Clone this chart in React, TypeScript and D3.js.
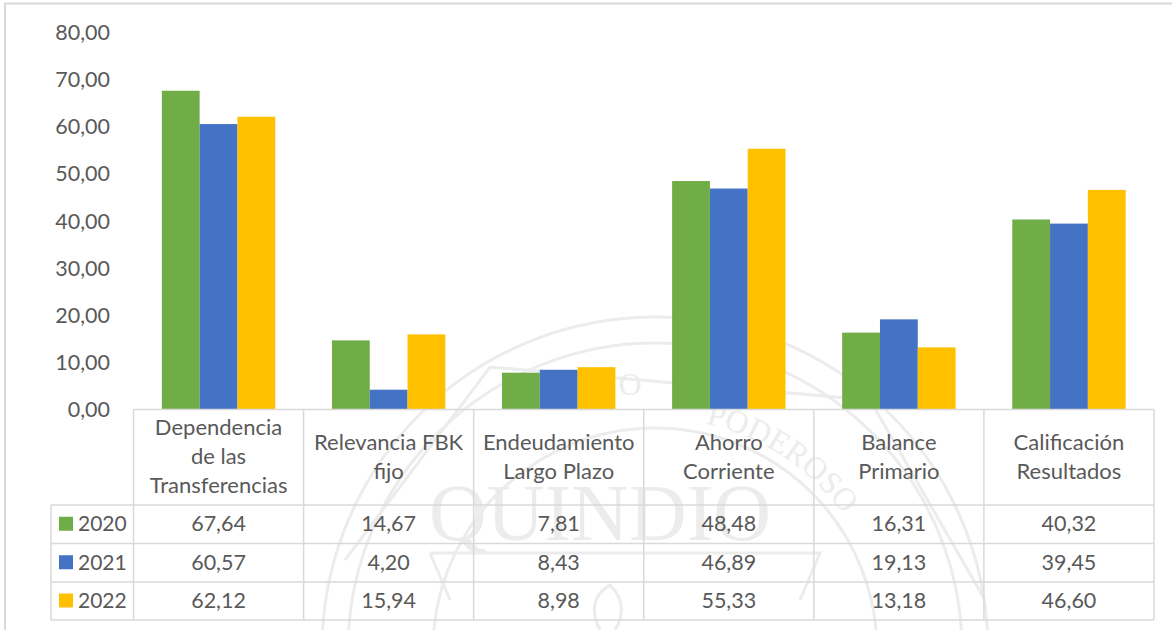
import React from "react";
import * as d3 from "d3";

const categories = [
  ["Dependencia", "de las", "Transferencias"],
  ["Relevancia FBK", "fijo"],
  ["Endeudamiento", "Largo Plazo"],
  ["Ahorro", "Corriente"],
  ["Balance", "Primario"],
  ["Calificación", "Resultados"],
];
const years = ["2020", "2021", "2022"];
const values2020 = [67.64, 14.67, 7.81, 48.48, 16.31, 40.32];
const values2021 = [60.57, 4.2, 8.43, 46.89, 19.13, 39.45];
const values2022 = [62.12, 15.94, 8.98, 55.33, 13.18, 46.6];
const colors = ["#70AD47", "#4472C4", "#FFC000"];
const ticks = [0, 10, 20, 30, 40, 50, 60, 70, 80];

const series = [values2020, values2021, values2022];
const fmt = (v: number) => v.toFixed(2).replace(".", ",");
const FONT = "Lato, 'Open Sans', sans-serif";
const TEXT = "#595959";
const GRID = "#D9D9D9";

export default function App() {
  const L = 133.5, R = 1154, T = 32.5, B = 409.5;
  const idx = categories.map((_, i) => i);
  const x0 = d3.scaleBand<number>().domain(idx).range([L, R]).paddingInner(1 / 3).paddingOuter(1 / 6);
  const x1 = d3.scaleBand<number>().domain([0, 1, 2]).range([0, x0.bandwidth()]);
  const colX = d3.scaleBand<number>().domain(idx).range([L, R]);
  const y = d3.scaleLinear().domain([0, 80]).range([B, T]);
  const rowY = [505, 543.5, 582, 620];
  const wm = "#ECECEC";
  const cx0 = 655, cy0 = 650;
  return (
    <svg width={1172} height={630} style={{ position: "absolute", left: 0, top: 0, background: "#fff" }} fontFamily={FONT}>
      <rect x={5} y={3.5} width={1180} height={640} fill="none" stroke={GRID} strokeWidth={2} />
      <defs>
        <path id="ringText" d={`M ${cx0 - 232} ${cy0} A 232 232 0 1 1 ${cx0 + 232} ${cy0}`} />
      </defs>
      {/* watermark seal */}
      <g fill="none" stroke={wm} strokeWidth={3}>
        <circle cx={cx0} cy={cy0} r={333} />
        <circle cx={cx0} cy={cy0} r={307} />
        <circle cx={cx0} cy={cy0} r={222} />
        <path d="M345 560 L490 367 L870 400 L985 600" />
        <path d="M430 553 L820 553 L800 600 M430 553 L450 600" />
        <path d="M600 630 Q585 600 610 585 Q630 605 615 630" />
      </g>
      <text x={600} y={540} textAnchor="middle" fontFamily="'Liberation Serif', serif" fontSize={80} fill={wm}>QUINDIO</text>
      <text x={630} y={395} textAnchor="middle" fontFamily="'Liberation Serif', serif" fontSize={32} fill={wm}>O</text>
      <text fontFamily="'Liberation Serif', serif" fontSize={32} fill={wm}>
        <textPath href="#ringText" startOffset="57%">PODEROSO</textPath>
      </text>
      {/* bars */}
      {idx.map((i) =>
        series.map((vals, s) => (
          <rect key={`${i}-${s}`} x={x0(i)! + x1(s)!} y={y(vals[i])} width={x1.bandwidth()} height={B - y(vals[i])} fill={colors[s]} />
        ))
      )}
      {/* y axis labels */}
      {ticks.map((t) => (
        <text key={t} x={110} y={y(t)} dy="0.35em" textAnchor="end" fontSize={21.5} fill={TEXT}>{fmt(t)}</text>
      ))}
      {/* table lines */}
      <g stroke={GRID} strokeWidth={1.5} fill="none">
        <line x1={L} x2={R} y1={B} y2={B} />
        {idx.concat([6]).map((i) => {
          const xx = i === 6 ? R : colX(i)!;
          return <line key={i} x1={xx} x2={xx} y1={B} y2={rowY[3]} />;
        })}
        <line x1={51} x2={51} y1={rowY[0]} y2={rowY[3]} />
        {rowY.map((r) => <line key={r} x1={51} x2={R} y1={r} y2={r} />)}
      </g>
      {/* category labels */}
      {categories.map((lines, i) => {
        const cx = colX(i)! + colX.bandwidth() / 2;
        const startY = 427.5 + (lines.length === 3 ? 0 : 15);
        return lines.map((ln, k) => (
          <text key={k} x={cx} y={startY + k * 29} dy="0.35em" textAnchor="middle" fontSize={22} fill={TEXT}>{ln}</text>
        ));
      })}
      {/* data rows */}
      {series.map((vals, s) => {
        const cy = (rowY[s] + rowY[s + 1]) / 2 - 0.5;
        return (
          <g key={s}>
            <rect x={59} y={cy - 7} width={14} height={14} fill={colors[s]} />
            <text x={78} y={cy} dy="0.35em" fontSize={21} fill={TEXT}>{years[s]}</text>
            {vals.map((v, i) => (
              <text key={i} x={colX(i)! + colX.bandwidth() / 2} y={cy} dy="0.35em" textAnchor="middle" fontSize={21.5} fill={TEXT}>{fmt(v)}</text>
            ))}
          </g>
        );
      })}
    </svg>
  );
}
